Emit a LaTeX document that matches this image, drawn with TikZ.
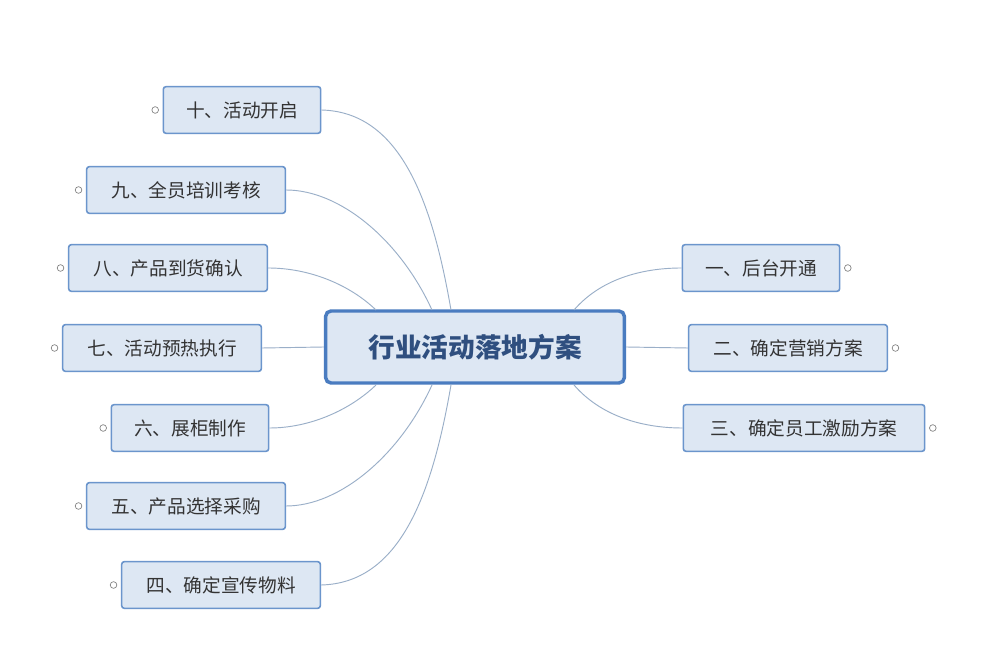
\documentclass[tikz,border=0pt]{standalone}
\usepackage{fontspec}
\setmainfont{Noto Sans CJK SC}
\definecolor{boxfill}{HTML}{DDE7F3}
\definecolor{boxline}{HTML}{6B95CC}
\definecolor{rootline}{HTML}{4A7CC0}
\definecolor{roottext}{HTML}{2F4F7F}
\definecolor{linkline}{HTML}{9AAFC8}
\tikzset{
	topic/.style={draw=boxline, fill=boxfill, rounded corners=2pt, line width=1.2pt, minimum height=35pt, inner xsep=10pt, font=\fontsize{14}{16}\selectfont, text=black!80},
	root/.style={draw=rootline, fill=boxfill, rounded corners=4pt, line width=2.6pt, minimum width=224pt, minimum height=54pt, font=\fontsize{20}{24}\selectfont\bfseries, text=roottext},
	link/.style={draw=linkline, line width=0.7pt},
	knob/.style={draw=gray, fill=white, circle, inner sep=0pt, minimum size=5pt, line width=0.5pt}
}
\begin{document}
\begin{tikzpicture}[x=0.75pt,y=-0.75pt]
	\useasboundingbox [fill=white] (0,0) rectangle (1000,655);
	% Zentrum
	\node [root] (c) at (475,347) {行业活动落地方案};
	% linke Seite
	\node [topic, minimum width=118pt] (t10) at (242,110) {十、活动开启};
	\node [topic, minimum width=149pt] (t9) at (186,190) {九、全员培训考核};
	\node [topic, minimum width=149pt] (t8) at (168,268) {八、产品到货确认};
	\node [topic, minimum width=149pt] (t7) at (162,348) {七、活动预热执行};
	\node [topic, minimum width=118pt] (t6) at (190,428) {六、展柜制作};
	\node [topic, minimum width=149pt] (t5) at (186,506) {五、产品选择采购};
	\node [topic, minimum width=149pt] (t4) at (221,585) {四、确定宣传物料};
	% rechte Seite
	\node [topic, minimum width=118pt] (t1) at (761,268) {一、后台开通};
	\node [topic, minimum width=149pt] (t2) at (788,348) {二、确定营销方案};
	\node [topic, minimum width=181pt] (t3) at (804,428) {三、确定员工激励方案};
	% Knöpfe
	\foreach \n in {t4,t5,t6,t7,t8,t9,t10} {
		\node [knob] at ([xshift=-5.5pt]\n.west) {};
	}
	\foreach \n in {t1,t2,t3} {
		\node [knob] at ([xshift=5.5pt]\n.east) {};
	}
	% Anschlusspunkte
	\coordinate (a10) at (451,310);
	\coordinate (a9) at (432,310);
	\coordinate (a8) at (376,310);
	\coordinate (a6) at (376,385);
	\coordinate (a5) at (432,385);
	\coordinate (a4) at (451,385);
	\coordinate (a1) at (574,310);
	\coordinate (a3) at (574,385);
	% Verbindungen
	\draw [link] (a10) .. controls (432,200) and (400,112) .. (t10.east);
	\draw [link] (a9) .. controls (400,240) and (340,190) .. (t9.east);
	\draw [link] (a8) .. controls (350,285) and (310,268) .. (t8.east);
	\draw [link] (c.west) -- (t7.east);
	\draw [link] (a6) .. controls (350,410) and (310,428) .. (t6.east);
	\draw [link] (a5) .. controls (400,455) and (340,506) .. (t5.east);
	\draw [link] (a4) .. controls (432,495) and (400,583) .. (t4.east);
	\draw [link] (a1) .. controls (600,280) and (640,268) .. (t1.west);
	\draw [link] (c.east) -- (t2.west);
	\draw [link] (a3) .. controls (600,415) and (640,428) .. (t3.west);
\end{tikzpicture}
\end{document}
